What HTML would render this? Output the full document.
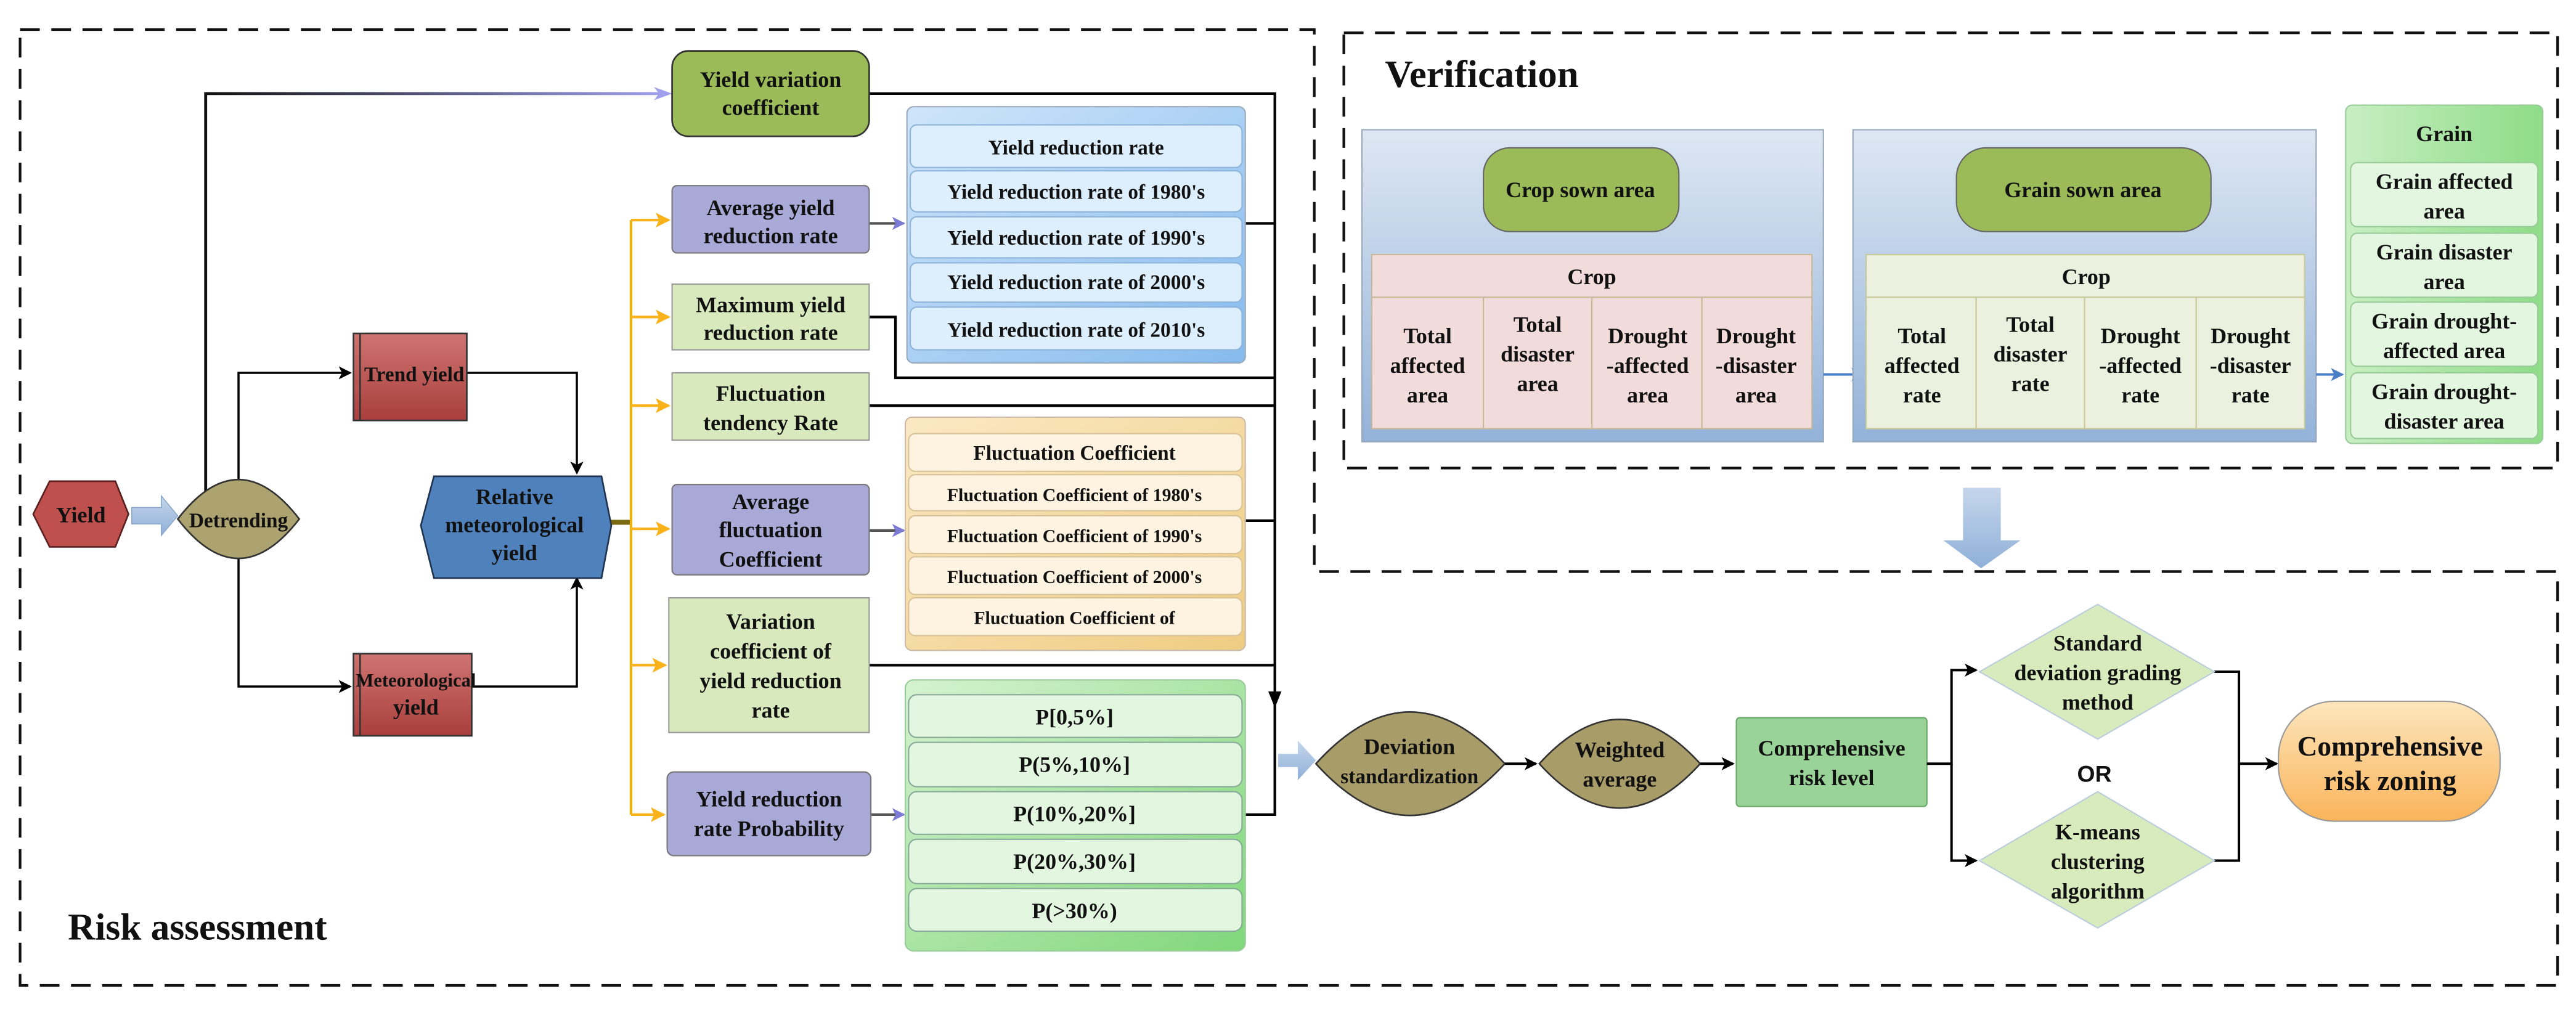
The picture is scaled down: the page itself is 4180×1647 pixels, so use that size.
<!DOCTYPE html>
<html><head><meta charset="utf-8"><style>
html,body{margin:0;padding:0;background:#fff}
svg{display:block}
text{font-family:"Liberation Serif",serif;font-weight:bold;fill:#111;text-anchor:middle}
.t{font-size:13.5px}
.s{font-size:12.5px}
</style></head><body>
<svg width="4180" height="1647" viewBox="0 0 1568 618" xmlns="http://www.w3.org/2000/svg">
<defs>
<linearGradient id="red" x1="0" y1="0" x2="0" y2="1"><stop offset="0" stop-color="#cf7472"/><stop offset="1" stop-color="#a83f3c"/></linearGradient>
<linearGradient id="blueg" x1="0" y1="0" x2="1" y2="1"><stop offset="0" stop-color="#cfe5fa"/><stop offset="1" stop-color="#86bbee"/></linearGradient>
<linearGradient id="orag" x1="0" y1="0" x2="1" y2="1"><stop offset="0" stop-color="#fbe9c4"/><stop offset="1" stop-color="#efcc82"/></linearGradient>
<linearGradient id="grng" x1="0" y1="0" x2="1" y2="1"><stop offset="0" stop-color="#d5f2d0"/><stop offset="1" stop-color="#80d77a"/></linearGradient>
<linearGradient id="panel" x1="0" y1="0" x2="0" y2="1"><stop offset="0" stop-color="#dde7f3"/><stop offset="1" stop-color="#93b2d8"/></linearGradient>
<linearGradient id="grain" x1="0" y1="0" x2="1" y2="0"><stop offset="0" stop-color="#c8eec2"/><stop offset="1" stop-color="#8edc88"/></linearGradient>
<linearGradient id="zon" x1="0" y1="0" x2="0" y2="1"><stop offset="0" stop-color="#fde6bd"/><stop offset="1" stop-color="#fab45a"/></linearGradient>
<linearGradient id="topl" x1="0" y1="0" x2="1" y2="0"><stop offset="0" stop-color="#111"/><stop offset="1" stop-color="#a0a0ee"/></linearGradient>
<linearGradient id="barr" x1="0" y1="0" x2="0" y2="1"><stop offset="0" stop-color="#c5d6ec"/><stop offset="1" stop-color="#8fb0d8"/></linearGradient>
<marker id="ak" markerWidth="8" markerHeight="8" refX="7" refY="4" orient="auto" markerUnits="userSpaceOnUse"><path d="M0,0 L8,4 L0,8 L2,4Z" fill="#000"/></marker>
<marker id="ay" markerWidth="9" markerHeight="9" refX="8" refY="4.5" orient="auto" markerUnits="userSpaceOnUse"><path d="M0,0 L9,4.5 L0,9 L2,4.5Z" fill="#f9b21a"/></marker>
<marker id="ap" markerWidth="8" markerHeight="8" refX="7" refY="4" orient="auto" markerUnits="userSpaceOnUse"><path d="M0,0 L8,4 L0,8 L2,4Z" fill="#7b7bd6"/></marker>
<marker id="ab" markerWidth="8" markerHeight="8" refX="7" refY="4" orient="auto" markerUnits="userSpaceOnUse"><path d="M0,0 L8,4 L0,8 L2,4Z" fill="#4a7fc6"/></marker>
</defs>

<g fill="none" stroke="#111" stroke-width="1.6" stroke-dasharray="12,7">
<path d="M12,18 H800 V348 H1557 V600 H12 Z"/>
<path d="M818,20 H1557 V285 H818 Z"/>
</g>
<text x="120" y="572" style="font-size:23px">Risk assessment</text>
<text x="902" y="53" style="font-size:23.5px">Verification</text>

<path d="M125,316 V57 H405" fill="none" stroke="url(#topl)" stroke-width="1.8"/>
<path d="M398,53 L409,57 L398,61 L401,57Z" fill="#a0a0ee"/>
<path d="M145,292 V227 H213" fill="none" stroke="#000" stroke-width="1.3" marker-end="url(#ak)"/>
<path d="M145,340 V418 H213" fill="none" stroke="#000" stroke-width="1.3" marker-end="url(#ak)"/>
<path d="M284,227 H351 V288" fill="none" stroke="#000" stroke-width="1.3" marker-end="url(#ak)"/>
<path d="M287,418 H351 V352" fill="none" stroke="#000" stroke-width="1.3" marker-end="url(#ak)"/>
<path d="M369,318 H384" stroke="#7a6a10" stroke-width="3"/>
<path d="M384,134 V496" stroke="#e7b313" stroke-width="1.6"/>
<g stroke="#f9b21a" stroke-width="1.6" fill="none">
<path d="M384,134 H407" marker-end="url(#ay)"/><path d="M384,193 H407" marker-end="url(#ay)"/>
<path d="M384,247 H407" marker-end="url(#ay)"/><path d="M384,322 H407" marker-end="url(#ay)"/>
<path d="M384,405 H405" marker-end="url(#ay)"/><path d="M384,496 H404" marker-end="url(#ay)"/>
</g>
<g stroke="#555" stroke-width="1.6" fill="none">
<path d="M529,136 H550" marker-end="url(#ap)"/><path d="M529,323 H550" marker-end="url(#ap)"/><path d="M530,496 H550" marker-end="url(#ap)"/>
</g>
<g stroke="#000" stroke-width="1.6" fill="none">
<path d="M529,57 H776 V428"/>
<path d="M758,136 H776"/><path d="M529,193 H545 V230 H776"/><path d="M529,247 H776"/>
<path d="M758,317 H776"/><path d="M529,405 H776"/><path d="M758,496 H776 V420"/>
</g>
<path d="M772,421 L776,431 L780,421Z" fill="#000"/>
<path d="M80,309 H98 V302 L108,314 L98,326 V319 H80Z" fill="url(#barr)" stroke="#8aa8cc" stroke-width="0.6"/>
<path d="M778,459 H790 V451 L801,463 L790,475 V467 H778Z" fill="url(#barr)"/>
<path d="M1195,297 H1218 V329 H1230 L1206,346 L1183,329 H1195Z" fill="url(#barr)"/>

<polygon points="20,313 30,293 70,293 78,313 70,333 30,333" fill="#c0504d" stroke="#5a2020" stroke-width="1"/>
<text class="t" x="49" y="318">Yield</text>
<path d="M108,316 Q145,268 182,316 Q145,364 108,316Z" fill="#ada370" stroke="#333" stroke-width="1"/>
<text x="145" y="321" style="font-size:12.5px">Detrending</text>
<rect x="215" y="203" width="69" height="53" fill="url(#red)" stroke="#333" stroke-width="1"/><path d="M219,203 V256" stroke="#333"/>
<text x="252" y="232" style="font-size:12.5px">Trend yield</text>
<rect x="215" y="398" width="72" height="50" fill="url(#red)" stroke="#333" stroke-width="1"/><path d="M219,398 V448" stroke="#333"/>
<text x="253" y="418" style="font-size:11.5px">Meteorological</text><text class="t" x="253" y="435">yield</text>
<polygon points="256,320 264,290 366,290 372,320 366,352 264,352" fill="#4f81bd" stroke="#1f3350" stroke-width="1"/>
<text class="t" x="313" y="307">Relative</text><text class="t" x="313" y="324">meteorological</text><text class="t" x="313" y="341">yield</text>

<rect x="409" y="31" width="120" height="52" rx="10" fill="#9bbb59" stroke="#333" stroke-width="1"/>
<text class="t" x="469" y="53">Yield variation</text><text class="t" x="469" y="70">coefficient</text>
<rect x="409" y="113" width="120" height="41" rx="3" fill="#a9a9d8" stroke="#777" stroke-width="0.8"/>
<text class="t" x="469" y="131">Average yield</text><text class="t" x="469" y="148">reduction rate</text>
<rect x="409" y="173" width="120" height="40" fill="#d7e9bd" stroke="#999" stroke-width="0.8"/>
<text class="t" x="469" y="190">Maximum yield</text><text class="t" x="469" y="207">reduction rate</text>
<rect x="409" y="227" width="120" height="41" fill="#d7e9bd" stroke="#999" stroke-width="0.8"/>
<text class="t" x="469" y="244">Fluctuation</text><text class="t" x="469" y="262">tendency Rate</text>
<rect x="409" y="295" width="120" height="55" rx="3" fill="#a9a9d8" stroke="#777" stroke-width="0.8"/>
<text class="t" x="469" y="310">Average</text><text class="t" x="469" y="327">fluctuation</text><text class="t" x="469" y="345">Coefficient</text>
<rect x="407" y="364" width="122" height="82" fill="#d7e9bd" stroke="#999" stroke-width="0.8"/>
<text class="t" x="469" y="383">Variation</text><text class="t" x="469" y="401">coefficient of</text><text class="t" x="469" y="419">yield reduction</text><text class="t" x="469" y="437">rate</text>
<rect x="406" y="470" width="124" height="51" rx="4" fill="#a9a9d8" stroke="#777" stroke-width="0.8"/>
<text class="t" x="468" y="491">Yield reduction</text><text class="t" x="468" y="509">rate Probability</text>

<rect x="552" y="65" width="206" height="156" rx="4" fill="url(#blueg)" stroke="#9ab" stroke-width="0.8"/>
<g fill="#ddeefc" stroke="#8fb4da" stroke-width="0.8">
<rect x="554" y="76" width="202" height="26" rx="4"/><rect x="554" y="104" width="202" height="25" rx="4"/>
<rect x="554" y="132" width="202" height="25" rx="4"/><rect x="554" y="160" width="202" height="24" rx="4"/>
<rect x="554" y="187" width="202" height="26" rx="4"/></g>
<text class="s" x="655" y="94">Yield reduction rate</text>
<text class="s" x="655" y="121">Yield reduction rate of 1980's</text>
<text class="s" x="655" y="149">Yield reduction rate of 1990's</text>
<text class="s" x="655" y="176">Yield reduction rate of 2000's</text>
<text class="s" x="655" y="205">Yield reduction rate of 2010's</text>

<rect x="551" y="254" width="207" height="142" rx="4" fill="url(#orag)" stroke="#cba" stroke-width="0.8"/>
<g fill="#fdf3e0" stroke="#d8c39a" stroke-width="0.8">
<rect x="553" y="264" width="203" height="23" rx="4"/><rect x="553" y="289" width="203" height="22" rx="4"/>
<rect x="553" y="314" width="203" height="23" rx="4"/><rect x="553" y="339" width="203" height="23" rx="4"/>
<rect x="553" y="364" width="203" height="23" rx="4"/></g>
<text class="s" x="654" y="280">Fluctuation Coefficient</text>
<text x="654" y="305" style="font-size:11.2px">Fluctuation Coefficient of 1980's</text>
<text x="654" y="330" style="font-size:11.2px">Fluctuation Coefficient of 1990's</text>
<text x="654" y="355" style="font-size:11.2px">Fluctuation Coefficient of 2000's</text>
<text x="654" y="380" style="font-size:11.2px">Fluctuation Coefficient of</text>

<rect x="551" y="414" width="207" height="165" rx="5" fill="url(#grng)" stroke="#9c9" stroke-width="0.8"/>
<g fill="#e3f6e0" stroke="#8a9" stroke-width="0.8">
<rect x="553" y="423" width="203" height="26" rx="5"/><rect x="553" y="452" width="203" height="27" rx="5"/>
<rect x="553" y="482" width="203" height="26" rx="5"/><rect x="553" y="511" width="203" height="27" rx="5"/>
<rect x="553" y="541" width="203" height="26" rx="5"/></g>
<text class="t" x="654" y="441">P[0,5%]</text><text class="t" x="654" y="470">P(5%,10%]</text>
<text class="t" x="654" y="500">P(10%,20%]</text><text class="t" x="654" y="529">P(20%,30%]</text>
<text class="t" x="654" y="559">P(&gt;30%)</text>

<rect x="829" y="79" width="281" height="190" fill="url(#panel)" stroke="#9ab" stroke-width="0.8"/>
<rect x="903" y="90" width="119" height="51" rx="16" fill="#9bbb59" stroke="#666" stroke-width="0.8"/>
<text class="t" x="962" y="120">Crop sown area</text>
<g fill="#f2dcdb" stroke="#c9b99a" stroke-width="0.8">
<rect x="835" y="155" width="268" height="26"/>
<rect x="835" y="181" width="68" height="80"/><rect x="903" y="181" width="66" height="80"/>
<rect x="969" y="181" width="67" height="80"/><rect x="1036" y="181" width="67" height="80"/></g>
<text class="t" x="969" y="173">Crop</text>
<text class="t" x="869" y="209">Total</text><text class="t" x="869" y="227">affected</text><text class="t" x="869" y="245">area</text>
<text class="t" x="936" y="202">Total</text><text class="t" x="936" y="220">disaster</text><text class="t" x="936" y="238">area</text>
<text class="t" x="1003" y="209">Drought</text><text class="t" x="1003" y="227">-affected</text><text class="t" x="1003" y="245">area</text>
<text class="t" x="1069" y="209">Drought</text><text class="t" x="1069" y="227">-disaster</text><text class="t" x="1069" y="245">area</text>

<path d="M1110,228 H1134" stroke="#4a7fc6" stroke-width="1.5" marker-end="url(#ab)"/>

<rect x="1128" y="79" width="282" height="190" fill="url(#panel)" stroke="#9ab" stroke-width="0.8"/>
<rect x="1191" y="90" width="155" height="51" rx="18" fill="#9bbb59" stroke="#666" stroke-width="0.8"/>
<text class="t" x="1268" y="120">Grain sown area</text>
<g fill="#ebf1de" stroke="#c9c99a" stroke-width="0.8">
<rect x="1136" y="155" width="267" height="26"/>
<rect x="1136" y="181" width="67" height="80"/><rect x="1203" y="181" width="66" height="80"/>
<rect x="1269" y="181" width="68" height="80"/><rect x="1337" y="181" width="66" height="80"/></g>
<text class="t" x="1270" y="173">Crop</text>
<text class="t" x="1170" y="209">Total</text><text class="t" x="1170" y="227">affected</text><text class="t" x="1170" y="245">rate</text>
<text class="t" x="1236" y="202">Total</text><text class="t" x="1236" y="220">disaster</text><text class="t" x="1236" y="238">rate</text>
<text class="t" x="1303" y="209">Drought</text><text class="t" x="1303" y="227">-affected</text><text class="t" x="1303" y="245">rate</text>
<text class="t" x="1370" y="209">Drought</text><text class="t" x="1370" y="227">-disaster</text><text class="t" x="1370" y="245">rate</text>

<path d="M1410,228 H1426" stroke="#4a7fc6" stroke-width="1.5" marker-end="url(#ab)"/>

<rect x="1428" y="64" width="120" height="206" rx="4" fill="url(#grain)" stroke="#9c9" stroke-width="0.8"/>
<g fill="#e3f6e0" stroke="#9c9" stroke-width="0.8">
<rect x="1431" y="99" width="114" height="39" rx="4"/><rect x="1431" y="142" width="114" height="39" rx="4"/>
<rect x="1431" y="184" width="114" height="39" rx="4"/><rect x="1431" y="227" width="114" height="40" rx="4"/></g>
<text class="t" x="1488" y="86">Grain</text>
<text class="t" x="1488" y="115">Grain affected</text><text class="t" x="1488" y="133">area</text>
<text class="t" x="1488" y="158">Grain disaster</text><text class="t" x="1488" y="176">area</text>
<text class="t" x="1488" y="200">Grain drought-</text><text class="t" x="1488" y="218">affected area</text>
<text class="t" x="1488" y="243">Grain drought-</text><text class="t" x="1488" y="261">disaster area</text>

<path d="M801,465 Q858,402 916,465 Q858,528 801,465Z" fill="#a89c68" stroke="#333" stroke-width="1"/>
<text class="t" x="858" y="459">Deviation</text><text x="858" y="477" style="font-size:12.5px">standardization</text>
<path d="M916,465 H935" stroke="#000" stroke-width="1.5" marker-end="url(#ak)"/>
<path d="M937,465 Q986,411 1035,465 Q986,519 937,465Z" fill="#a89c68" stroke="#333" stroke-width="1"/>
<text class="t" x="986" y="461">Weighted</text><text class="t" x="986" y="479">average</text>
<path d="M1035,465 H1055" stroke="#000" stroke-width="1.5" marker-end="url(#ak)"/>
<rect x="1057" y="437" width="116" height="54" rx="2" fill="#99d398" stroke="#6a6" stroke-width="0.8"/>
<text class="t" x="1115" y="460">Comprehensive</text><text class="t" x="1115" y="478">risk level</text>
<g stroke="#000" stroke-width="1.5" fill="none">
<path d="M1173,465 H1188 V408 H1203" marker-end="url(#ak)"/>
<path d="M1188,465 V524 H1203" marker-end="url(#ak)"/>
<path d="M1348,409 H1363 V524 H1348"/>
<path d="M1363,465 H1386" marker-end="url(#ak)"/>
</g>
<polygon points="1205,409 1277,368 1348,409 1277,450" fill="#d7ebbd" stroke="#bcd" stroke-width="0.8"/>
<text class="t" x="1277" y="396">Standard</text><text class="t" x="1277" y="414">deviation grading</text><text class="t" x="1277" y="432">method</text>
<text x="1275" y="476" style="font-family:'Liberation Sans',sans-serif;font-size:14px">OR</text>
<polygon points="1205,524 1277,482 1348,524 1277,565" fill="#d7ebbd" stroke="#bcd" stroke-width="0.8"/>
<text class="t" x="1277" y="511">K-means</text><text class="t" x="1277" y="529">clustering</text><text class="t" x="1277" y="547">algorithm</text>
<rect x="1387" y="427" width="135" height="73" rx="34" fill="url(#zon)" stroke="#999" stroke-width="0.8"/>
<text x="1455" y="460" style="font-size:17px">Comprehensive</text><text x="1455" y="481" style="font-size:17px">risk zoning</text>
</svg>
</body></html>
